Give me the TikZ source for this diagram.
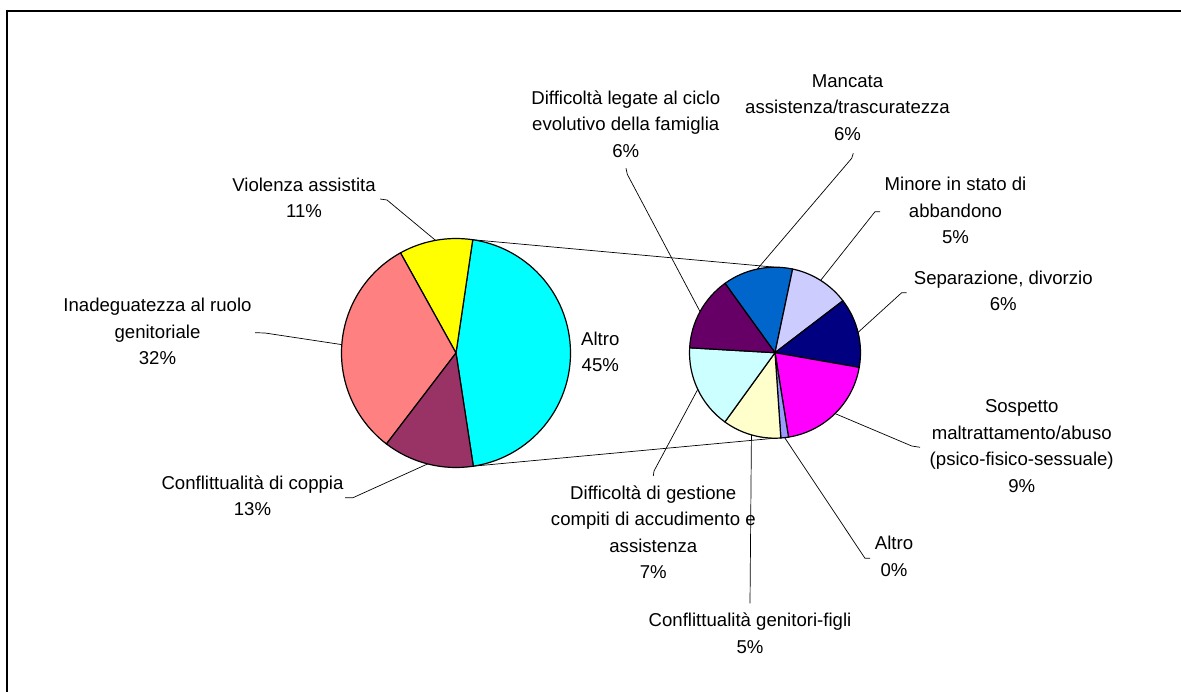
\documentclass[tikz,border=0pt]{standalone}
\usepackage{fontspec}
\setmainfont{Liberation Sans}
\usetikzlibrary{calc}
\definecolor{pcyan}{HTML}{00FFFF}
\definecolor{pyellow}{HTML}{FFFF00}
\definecolor{psalmon}{HTML}{FF8080}
\definecolor{pmaroon}{HTML}{993366}
\definecolor{sblue}{HTML}{0066CC}
\definecolor{slav}{HTML}{CCCCFF}
\definecolor{snavy}{HTML}{000080}
\definecolor{smag}{HTML}{FF00FF}
\definecolor{speri}{HTML}{9999FF}
\definecolor{sly}{HTML}{FFFFCC}
\definecolor{slc}{HTML}{CCFFFF}
\definecolor{spur}{HTML}{660066}
\newcommand{\pieslice}[5]{\filldraw[wedge,fill=#5] (#1) -- ++(#3:#2) arc[start angle=#3, end angle=#4, radius=#2] -- cycle;}
\begin{document}
\begin{tikzpicture}[x=1pt,y=-1pt,
  lbl/.style={font=\fontsize{18.6}{26.5}\selectfont, align=center, inner sep=0pt, text=black},
  lead/.style={draw=black, line width=0.7pt},
  wedge/.style={draw=black, line width=1.2pt, line join=round},
  frame/.style={draw=black, line width=1.4pt}]
\useasboundingbox (0,0) rectangle (1181,692);
\draw[frame] (7,692) -- (7,11) -- (1181,11);

\coordinate (L) at (456,353);
\coordinate (R) at (775,352.7);

% connectors between the pies
\coordinate (Ltop) at ($(L)+(81.6:114.5pt)$);
\coordinate (Lbot) at ($(L)+(-81.3:114.5pt)$);
\coordinate (Rtop) at ($(R)+(90:85.5pt)$);
\coordinate (Rbot) at ($(R)+(-90:85.5pt)$);
\draw[lead] (Ltop) -- (Rtop);
\draw[lead] (Lbot) -- (Rbot);

% main pie
\pieslice{L}{114.5pt}{-81.3}{81.6}{pcyan}
\pieslice{L}{114.5pt}{81.6}{119}{pyellow}
\pieslice{L}{114.5pt}{119}{232.6}{psalmon}
\pieslice{L}{114.5pt}{232.6}{278.7}{pmaroon}

% secondary pie
\pieslice{R}{85.5pt}{78.1}{125.8}{sblue}
\pieslice{R}{85.5pt}{37.4}{78.1}{slav}
\pieslice{R}{85.5pt}{-9.9}{37.4}{snavy}
\pieslice{R}{85.5pt}{-80.9}{-9.9}{smag}
\pieslice{R}{85.5pt}{-86.1}{-80.9}{speri}
\pieslice{R}{85.5pt}{-125.9}{-86.1}{sly}
\pieslice{R}{85.5pt}{176.7}{234.1}{slc}
\pieslice{R}{85.5pt}{125.8}{176.7}{spur}

% labels
\node[lbl] (violenza) at (304,197.8) {Violenza assistita\\11\%};
\node[lbl] (inadeg) at (157.5,331.7) {Inadeguatezza al ruolo\\genitoriale\\32\%};
\node[lbl] (coppia) at (252.5,495.5) {Conflittualità di coppia\\13\%};
\node[lbl] (altroL) at (600.3,351.7) {Altro\\45\%};
\node[lbl] (ciclo) at (625.8,124.2) {Difficoltà legate al ciclo\\evolutivo della famiglia\\6\%};
\node[lbl] (mancata) at (847.5,107.6) {Mancata\\assistenza/trascuratezza\\6\%};
\node[lbl] (minore) at (955.5,210.8) {Minore in stato di\\abbandono\\5\%};
\node[lbl] (separ) at (1003.3,290.8) {Separazione, divorzio\\6\%};
\node[lbl] (sospetto) at (1021.7,446) {Sospetto\\maltrattamento/abuso\\(psico-fisico-sessuale)\\9\%};
\node[lbl] (altroR) at (894,556.2) {Altro\\0\%};
\node[lbl] (genfigli) at (750,633.3) {Conflittualità genitori-figli\\5\%};
\node[lbl] (gestione) at (653.3,532) {Difficoltà di gestione\\compiti di accudimento e\\assistenza\\7\%};

% leader lines
\coordinate (vA) at (380,199); \coordinate (vB) at (387,200);
\coordinate (vC) at ($(L)+(100.3:114.5pt)$);
\draw[lead] (vA) -- (vB) -- (vC);
\coordinate (iA) at (255,332.7); \coordinate (iB) at (265,333);
\coordinate (iC) at ($(L)+(175.8:114.5pt)$);
\draw[lead] (iA) -- (iB) -- (iC);
\coordinate (cA) at (345,497.7); \coordinate (cB) at (353,497.7);
\coordinate (cC) at ($(L)+(255.65:114.5pt)$);
\draw[lead] (cA) -- (cB) -- (cC);

\coordinate (ciA) at (626,168.3); \coordinate (ciB) at (627.3,174.3);
\coordinate (ciC) at ($(R)+(151.25:85.5pt)$);
\draw[lead] (ciA) -- (ciB) -- (ciC);
\coordinate (mA) at (853.3,153.3); \coordinate (mB) at (851.7,158.3);
\coordinate (mC) at ($(R)+(101.95:85.5pt)$);
\draw[lead] (mA) -- (mB) -- (mC);
\coordinate (miA) at (880,211.7); \coordinate (miB) at (875,211.7);
\coordinate (miC) at ($(R)+(57.75:85.5pt)$);
\draw[lead] (miA) -- (miB) -- (miC);
\coordinate (sA) at (906.7,292.7); \coordinate (sB) at (901.7,292.7);
\coordinate (sC) at ($(R)+(13.75:85.5pt)$);
\draw[lead] (sA) -- (sB) -- (sC);
\coordinate (soA) at (920,447.3); \coordinate (soB) at (911.7,446);
\coordinate (soC) at ($(R)+(-45.4:85.5pt)$);
\draw[lead] (soA) -- (soB) -- (soC);
\coordinate (aA) at (870,558.3); \coordinate (aB) at (865,558.3);
\coordinate (aC) at ($(R)+(-83.5:85.5pt)$);
\draw[lead] (aA) -- (aB) -- (aC);
\coordinate (gA) at (750,603.3);
\coordinate (gC) at ($(R)+(-106:85.5pt)$);
\draw[lead] (gA) -- (gC);
\coordinate (geA) at (653.3,476); \coordinate (geB) at (654,471);
\coordinate (geC) at ($(R)+(205.4:85.5pt)$);
\draw[lead] (geA) -- (geB) -- (geC);
\end{tikzpicture}
\end{document}
